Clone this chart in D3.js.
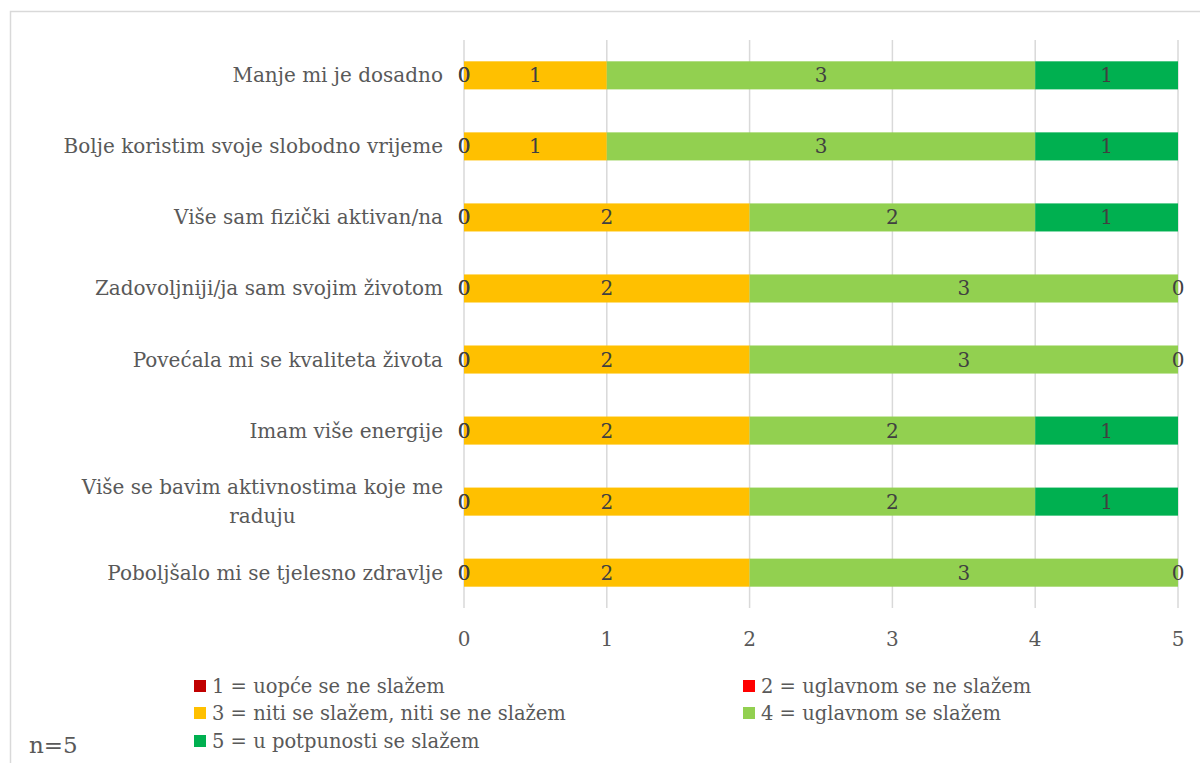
<!DOCTYPE html>
<html>
<head>
<meta charset="utf-8">
<script src="https://cdn.jsdelivr.net/npm/d3@7"></script>
<style>
  body { margin: 0; background: #fff; }
  text { font-family: "DejaVu Serif", serif; }
</style>
</head>
<body>
<div id="chart"></div>
<script>
// categories top to bottom
const categories = [
  "Manje mi je dosadno",
  "Bolje koristim svoje slobodno vrijeme",
  "Više sam fizički aktivan/na",
  "Zadovoljniji/ja sam svojim životom",
  "Povećala mi se kvaliteta života",
  "Imam više energije",
  "Više se bavim aktivnostima koje me raduju",
  "Poboljšalo mi se tjelesno zdravlje"
];

const seriesNames = [
  "1 = uopće se ne slažem",
  "2 = uglavnom se ne slažem",
  "3 = niti se slažem, niti se ne slažem",
  "4 = uglavnom se slažem",
  "5 = u potpunosti se slažem"
];

const s1 = [0, 0, 0, 0, 0, 0, 0, 0];
const s2 = [0, 0, 0, 0, 0, 0, 0, 0];
const s3 = [1, 1, 2, 2, 2, 2, 2, 2];
const s4 = [3, 3, 2, 3, 3, 2, 2, 3];
const s5 = [1, 1, 1, 0, 0, 1, 1, 0];

const xTicks = [0, 1, 2, 3, 4, 5];
const colors = ["#C00000", "#FF0000", "#FFC000", "#92D050", "#00B050"];
const note = "n=5";

const W = 1200, H = 763;
const margin = {top: 40, right: 22, bottom: 155, left: 464};
const fs = 20;

const svg = d3.select("#chart").append("svg")
  .attr("width", W)
  .attr("height", H);

// chart frame
svg.append("rect")
  .attr("x", 10.5).attr("y", 11.5)
  .attr("width", W).attr("height", H)
  .attr("fill", "none")
  .attr("stroke", "#d9d9d9")
  .attr("stroke-width", 1.5);

const x = d3.scaleLinear()
  .domain([0, 5])
  .range([margin.left, W - margin.right]);

const y = d3.scaleBand()
  .domain(categories)
  .range([margin.top, H - margin.bottom])
  .paddingInner(0.605)
  .paddingOuter(0.3);

// gridlines
svg.append("g")
  .selectAll("line")
  .data(xTicks)
  .join("line")
    .attr("x1", d => x(d))
    .attr("x2", d => x(d))
    .attr("y1", margin.top)
    .attr("y2", H - margin.bottom)
    .attr("stroke", "#d9d9d9")
    .attr("stroke-width", 1.5);

const table = categories.map((c, i) => ({cat: c, vals: [s1[i], s2[i], s3[i], s4[i], s5[i]]}));
const stack = d3.stack().keys(d3.range(5)).value((d, k) => d.vals[k]);
const layers = stack(table);

const groups = svg.append("g")
  .selectAll("g")
  .data(layers)
  .join("g")
    .attr("fill", (d, i) => colors[i]);

groups.selectAll("rect")
  .data(d => d)
  .join("rect")
    .attr("x", d => x(d[0]))
    .attr("y", d => y(d.data.cat))
    .attr("width", d => x(d[1]) - x(d[0]))
    .attr("height", y.bandwidth());

// data labels
const lbl = svg.append("g");
layers.forEach((layer, k) => {
  layer.forEach(d => {
    lbl.append("text")
      .attr("x", x((d[0] + d[1]) / 2))
      .attr("y", y(d.data.cat) + y.bandwidth() / 2)
      .attr("dy", "0.35em")
      .attr("text-anchor", "middle")
      .attr("fill", "#404040")
      .attr("font-size", fs)
      .text(d.data.vals[k]);
  });
});

// x axis labels
svg.append("g")
  .selectAll("text")
  .data(xTicks)
  .join("text")
    .attr("x", d => x(d))
    .attr("y", H - margin.bottom + 31)
    .attr("dy", "0.35em")
    .attr("text-anchor", "middle")
    .attr("fill", "#595959")
    .attr("font-size", fs)
    .text(d => d);

// category labels with wrapping
const catG = svg.append("g");
categories.forEach(c => {
  const t = catG.append("text")
    .attr("fill", "#595959")
    .attr("font-size", fs)
    .attr("text-anchor", "middle");
  const words = c.split(" ");
  let lines = [], line = [];
  const probe = catG.append("text").attr("font-size", fs);
  words.forEach(w => {
    probe.text(line.concat(w).join(" "));
    if (probe.node().getComputedTextLength() > 400 && line.length) {
      lines.push(line.join(" "));
      line = [w];
    } else line.push(w);
  });
  lines.push(line.join(" "));
  let maxW = 0;
  lines.forEach(l => { probe.text(l); maxW = Math.max(maxW, probe.node().getComputedTextLength()); });
  probe.remove();
  const cx = margin.left - 21 - maxW / 2;
  const cy = y(c) + y.bandwidth() / 2;
  const lh = 29;
  lines.forEach((l, i) => {
    t.append("tspan")
      .attr("x", cx)
      .attr("y", cy + (i - (lines.length - 1) / 2) * lh)
      .attr("dy", "0.35em")
      .text(l);
  });
});

// legend
const legPos = [[194, 686], [743, 686], [194, 713], [743, 713], [194, 741]];
const leg = svg.append("g")
  .selectAll("g")
  .data(seriesNames)
  .join("g")
    .attr("transform", (d, i) => `translate(${legPos[i][0]},${legPos[i][1]})`);
leg.append("rect")
  .attr("x", 0).attr("y", -6)
  .attr("width", 12).attr("height", 12)
  .attr("fill", (d, i) => colors[i]);
leg.append("text")
  .attr("x", 18)
  .attr("dy", "0.35em")
  .attr("fill", "#595959")
  .attr("font-size", 19.5)
  .text(d => d);

svg.append("text")
  .attr("x", 29).attr("y", 745)
  .attr("dy", "0.35em")
  .attr("fill", "#595959")
  .attr("font-size", 23)
  .text(note);
</script>
</body>
</html>
